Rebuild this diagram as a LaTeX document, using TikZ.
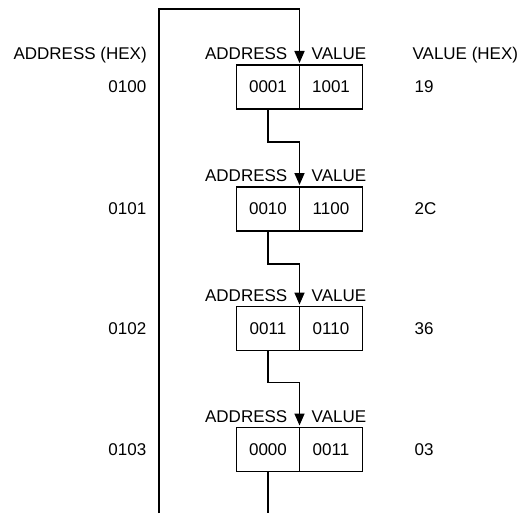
\documentclass[tikz,border=0pt]{standalone}
\usepackage{fontspec}
\setmainfont{Liberation Sans}
\usetikzlibrary{arrows.meta,positioning}

\begin{document}
\begin{tikzpicture}[x=1pt, y=-1pt,
  every node/.style={font=\fontsize{17}{20}\selectfont, inner sep=0pt},
  cell/.style={draw, line width=1.6pt, outer sep=0pt, minimum width=63pt, minimum height=44pt},
  wire/.style={line width=1.6pt},
  link/.style={wire, shorten >=2pt, -{Triangle[width=10pt,length=12pt]}}]
  \useasboundingbox (0,0) rectangle (521,513);

  % memory cells
  \node[cell] (a1) at (268,87) {0001};
  \node[cell, right=0pt of a1] (v1) {1001};
  \node[cell] (a2) at (268,209) {0010};
  \node[cell, right=0pt of a2] (v2) {1100};
  \node[cell] (a3) at (268,328.5) {0011};
  \node[cell, right=0pt of a3] (v3) {0110};
  \node[cell] (a4) at (268,449.5) {0000};
  \node[cell, right=0pt of a4] (v4) {0011};

  % field names above each cell
  \node[above left=5pt and 12pt of a1.north east] (ta1) {ADDRESS};
  \node[above right=5pt and 12pt of a1.north east] (tv1) {VALUE};
  \node[above left=5pt and 12pt of a2.north east] (ta2) {ADDRESS};
  \node[above right=5pt and 12pt of a2.north east] (tv2) {VALUE};
  \node[above left=5pt and 12pt of a3.north east] (ta3) {ADDRESS};
  \node[above right=5pt and 12pt of a3.north east] (tv3) {VALUE};
  \node[above left=5pt and 12pt of a4.north east] (ta4) {ADDRESS};
  \node[above right=5pt and 12pt of a4.north east] (tv4) {VALUE};

  % column headings
  \node[base left=58pt of ta1] (colA) {ADDRESS (HEX)};
  \node[base right=46pt of tv1] (colV) {VALUE (HEX)};

  % hex addresses and values
  \node[left=90pt of a1] (h1) {0100};
  \node[left=90pt of a2] (h2) {0101};
  \node[left=90pt of a3] (h3) {0102};
  \node[left=90pt of a4] (h4) {0103};
  \node[right=52pt of v1, anchor=west] (x1) {19};
  \node[right=52pt of v2, anchor=west] (x2) {2C};
  \node[right=52pt of v3, anchor=west] (x3) {36};
  \node[right=52pt of v4, anchor=west] (x4) {03};

  % pointers
  \coordinate (tl) at (159,9);
  \coordinate (bl) at (159,513);
  \draw[link] (bl) -- (tl) -| (a1.north east);
  \draw[link] (a1.south) -- ++(0,33) -| (a2.north east);
  \draw[link] (a2.south) -- ++(0,33) -| (a3.north east);
  \draw[link] (a3.south) -- ++(0,32) -| (a4.north east);
  \draw[wire] (a4.south) -- (a4.south |- bl);
\end{tikzpicture}
\end{document}
